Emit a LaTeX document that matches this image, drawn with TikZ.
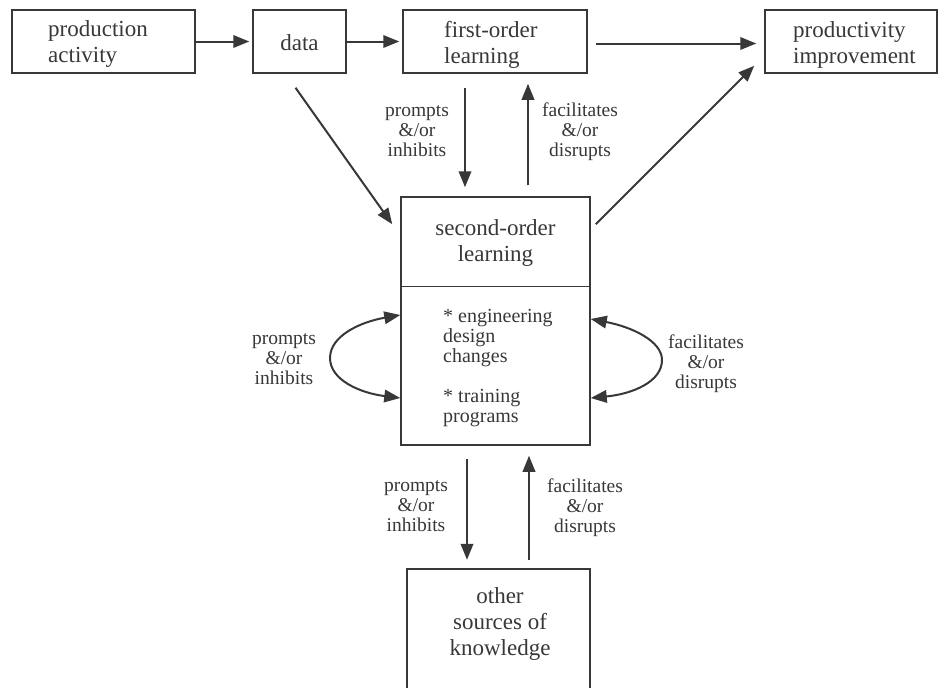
\documentclass[tikz,border=0pt]{standalone}
\usepackage{fontspec}
\setmainfont{Liberation Serif}
\usetikzlibrary{arrows.meta,calc}
\definecolor{ink}{gray}{0.22}
\begin{document}
\begin{tikzpicture}[x=1pt,y=-1pt,
  box/.style={draw=ink, line width=1.5pt, inner sep=0pt, minimum height=63pt},
  txt/.style={text=ink, font=\fontsize{23}{26}\selectfont, align=center, inner sep=0pt},
  ltxt/.style={text=ink, font=\fontsize{23}{26}\selectfont, align=left, inner sep=0pt, anchor=west},
  lst/.style={text=ink, font=\fontsize{20}{20}\selectfont, align=left, inner sep=0pt},
  lbl/.style={text=ink, font=\fontsize{19.5}{20}\selectfont, align=center, inner sep=0pt},
  tipA/.tip={Triangle[length=16pt,width=12.5pt]},
  arr/.style={draw=ink, line width=2pt, -tipA},
  darr/.style={draw=ink, line width=2pt, tipA-tipA},
]
\useasboundingbox (0,0) rectangle (940,688);
\fill[white] (0,0) rectangle (940,688);

% top row
\node[box, minimum width=183pt] (pa) at (103.5,41.5) {};
\node[ltxt] (pat) at (48,44.5) {production\\activity};
\node[box, minimum width=93pt] (data) at (299.5,41.5) {};
\node[txt] (datat) at (299.5,43) {data};
\node[box, minimum width=184pt] (fo) at (495,41.5) {};
\node[ltxt] (fot) at (444,44.5) {first-order\\learning};
\node[box, minimum width=172pt] (pi) at (851,41.5) {};
\node[ltxt] (pit) at (793,44.5) {productivity\\improvement};

% second-order learning box
\node[draw=ink, line width=1.5pt, minimum width=189pt, minimum height=248pt, inner sep=0pt] (so) at (495.5,321) {};
\draw[ink, line width=1.5pt] ($(so.north west)+(0,90)$) coordinate (dl) -- ($(so.north east)+(0,90)$) coordinate (dr);
\node[txt] (sot) at (495.5,243) {second-order\\learning};
\node[lst, anchor=west] (sol) at (443,368.5) {* engineering\\design\\changes\\[20pt]* training\\programs};

% other sources of knowledge (open at the bottom edge)
\node[minimum width=183pt, minimum height=119pt, inner sep=0pt] (ok) at (498.5,628.5) {};
\draw[ink, line width=1.5pt] (ok.south west) -- (ok.north west) -- (ok.north east) -- (ok.south east);
\node[txt] (okt) at (500,624) {other\\sources of\\knowledge};

% top arrows
\draw[arr] (pa.east) -- ($(data.west)+(-3,0)$);
\draw[arr] (data.east) -- ($(fo.west)+(-3,0)$);
\draw[arr] ($(fo.east)+(8,2)$) -- ($(pi.west)+(-8,2)$);
\draw[arr] ($(data.south)+(-4,14)$) -- ($(so.north west)+(-8,28)$);
\draw[arr] ($(so.north east)+(5,28)$) -- ($(pi.south west)+(-10,-8)$);

% first-order <-> second-order
\draw[arr] ($(fo.south)+(-30,14)$) -- ($(so.north)+(-30.5,-9)$);
\draw[arr] ($(so.north)+(32.5,-11)$) -- ($(fo.south)+(33,10)$);
\node[lbl] (l1) at (417,131) {prompts\\\&/or\\inhibits};
\node[lbl] (l2) at (580,132) {facilitates\\\&/or\\disrupts};

% self loops
\draw[darr] ($(so.west)+(0,-6)$) .. controls (360,322) and (330,336) .. (330,358) .. controls (330,380) and (360,393) .. ($(so.west)+(0,77)$);
\draw[darr] ($(so.east)+(0,-2)$) .. controls (632,327) and (662,341) .. (662,360) .. controls (662,382) and (632,394) .. ($(so.east)+(0,77)$);
\node[lbl] (l3) at (284,359) {prompts\\\&/or\\inhibits};
\node[lbl] (l4) at (706,364) {facilitates\\\&/or\\disrupts};

% second-order <-> other sources
\draw[arr] ($(so.south)+(-28.5,13)$) -- ($(ok.north)+(-31.5,-9)$);
\draw[arr] ($(ok.north)+(30.5,-9)$) -- ($(so.south)+(33.5,10)$);
\node[lbl] (l5) at (416,506) {prompts\\\&/or\\inhibits};
\node[lbl] (l6) at (585,508) {facilitates\\\&/or\\disrupts};
\end{tikzpicture}
\end{document}
